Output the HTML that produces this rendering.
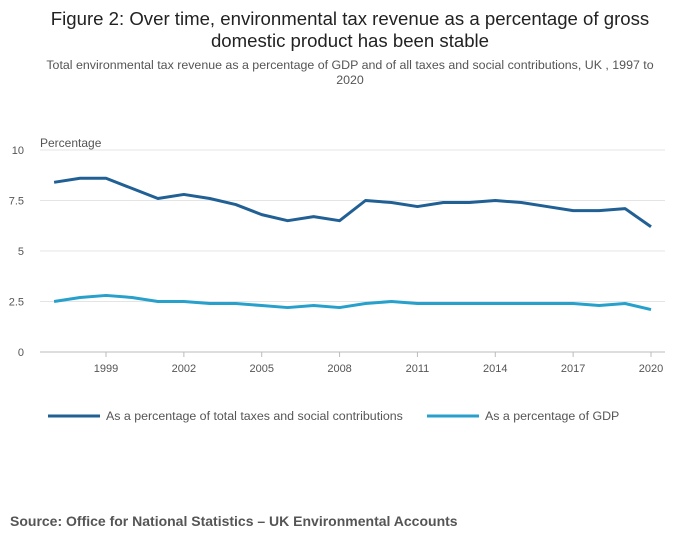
<!DOCTYPE html>
<html><head><meta charset="utf-8"><style>
body{margin:0;background:#fff;font-family:"Liberation Sans",sans-serif;}
#wrap{position:relative;width:700px;height:549px;overflow:hidden;}
.t{position:absolute;left:0;width:700px;text-align:center;color:#222;}
</style></head><body>
<div id="wrap">
<div class="t" style="top:8px;font-size:18.6px;line-height:22px;color:#222;">Figure 2: Over time, environmental tax revenue as a percentage of gross<br>domestic product has been stable</div>
<div class="t" style="top:58px;font-size:12.4px;line-height:15px;color:#555;">Total environmental tax revenue as a percentage of GDP and of all taxes and social contributions, UK , 1997 to<br>2020</div>
<svg id="svg" width="700" height="549" style="position:absolute;left:0;top:0"></svg>
<div style="position:absolute;left:10px;top:513px;font-size:14px;font-weight:bold;color:#555;">Source: Office for National Statistics – UK Environmental Accounts</div>
</div>
<script>
const years=[1997,1998,1999,2000,2001,2002,2003,2004,2005,2006,2007,2008,2009,2010,2011,2012,2013,2014,2015,2016,2017,2018,2019,2020];
const totalTaxes=[8.4,8.6,8.6,8.1,7.6,7.8,7.6,7.3,6.8,6.5,6.7,6.5,7.5,7.4,7.2,7.4,7.4,7.5,7.4,7.2,7.0,7.0,7.1,6.2];
const gdp=[2.5,2.7,2.8,2.7,2.5,2.5,2.4,2.4,2.3,2.2,2.3,2.2,2.4,2.5,2.4,2.4,2.4,2.4,2.4,2.4,2.4,2.3,2.4,2.1];
const yTicks=[0,2.5,5,7.5,10];
const yTickLabels=["0","2.5","5","7.5","10"];
const xTicks=[1999,2002,2005,2008,2011,2014,2017,2020];
const NS="http://www.w3.org/2000/svg";
const svg=document.getElementById('svg');
const x=v=>106+(v-1999)*(545/21);
const y=v=>352-v*20.2;
function mk(t,a,p){const e=document.createElementNS(NS,t);for(const k in a)e.setAttribute(k,a[k]);(p||svg).appendChild(e);return e;}
yTicks.forEach((v,i)=>{
 const g=mk('line',{x1:40,x2:665,y1:y(v),y2:y(v),stroke:v===0?'#bbb':'#e4e4e4','stroke-width':1});
 
 
 const t=mk('text',{x:24,y:y(v)+4,'text-anchor':'end','font-size':11,fill:'#555','font-family':'Liberation Sans, sans-serif'});
 t.textContent=yTickLabels[i];
 
 
});
const yt=mk('text',{x:40,y:147,'font-size':12,fill:'#555','font-family':'Liberation Sans, sans-serif'});
yt.textContent='Percentage';


xTicks.forEach(v=>{
 const l=mk('line',{x1:x(v),x2:x(v),y1:352,y2:357,stroke:'#bbb'});
 
 
 const t=mk('text',{x:x(v),y:372,'text-anchor':'middle','font-size':11,fill:'#555','font-family':'Liberation Sans, sans-serif'});
 t.textContent=v;
 
 
});
function line(vals,color,name){
 const p=mk('path',{d:vals.map((v,i)=>(i?'L':'M')+x(years[i])+','+y(v)).join(''),fill:'none',stroke:color,'stroke-width':3,'stroke-linejoin':'round'});
 
 
}
line(totalTaxes,'#206095','series-total-taxes');
line(gdp,'#27a0cc','series-gdp');
const leg=[['As a percentage of total taxes and social contributions','#206095',48],['As a percentage of GDP','#27a0cc',427]];
leg.forEach(([txt,c,lx])=>{
 const l=mk('line',{x1:lx,x2:lx+52,y1:416,y2:416,stroke:c,'stroke-width':3});
 
 
 const t=mk('text',{x:lx+58,y:420,'font-size':12.4,fill:'#555','font-family':'Liberation Sans, sans-serif'});
 t.textContent=txt;
 
 
});
</script>
</body></html>
